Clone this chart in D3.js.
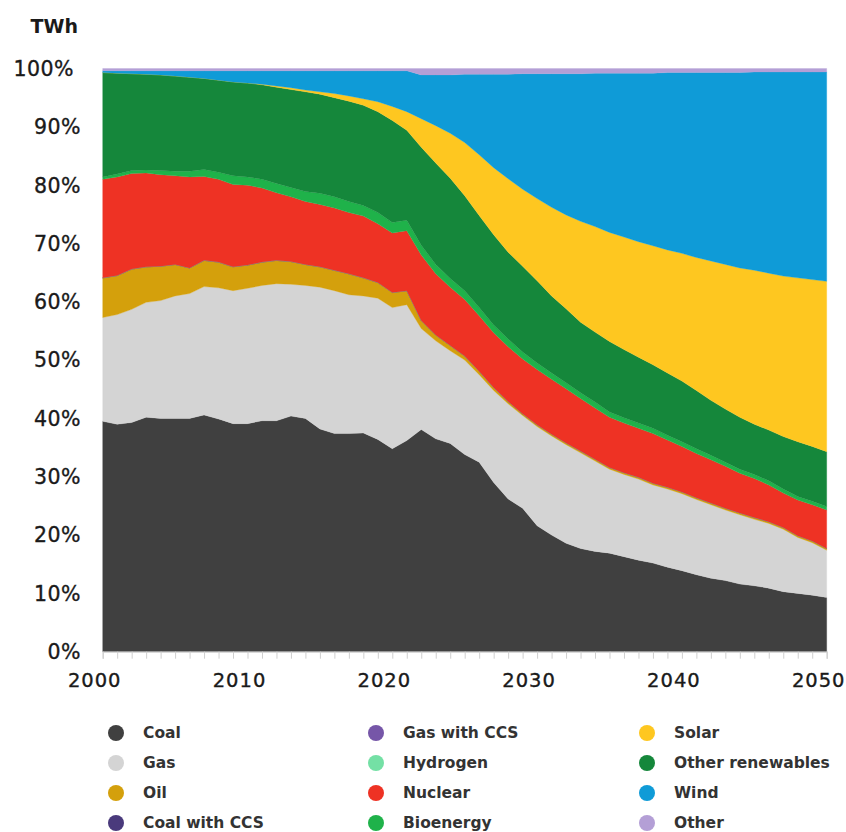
<!DOCTYPE html>
<html><head><meta charset="utf-8">
<script src="https://cdn.jsdelivr.net/npm/d3@7"></script>
<style>
html,body{margin:0;padding:0;background:#fff;}
svg{display:block;}
</style></head>
<body>
<svg id="chart" width="846" height="832"></svg>
<script>
const years = d3.range(2000, 2051);
const seriesNames = ["Coal","Gas","Oil","Coal with CCS","Gas with CCS","Hydrogen","Nuclear","Bioenergy","Other renewables","Solar","Wind","Other"];
const colors = ["#404040","#d4d4d4","#d4a00c","#4a3a7c","#7656a8","#74e0a5","#ee3224","#1fb24a","#15873b","#fec720","#0f9bd7","#b49fd6"];
// legend order (column by column)
const legendOrder = ["Coal","Gas","Oil","Coal with CCS","Gas with CCS","Hydrogen","Nuclear","Bioenergy","Solar","Other renewables","Wind","Other"];

// shares (%) per year, 2000..2050
const coal = [39.5,39.0,39.3,40.2,40.0,40.0,40.0,40.6,39.9,39.1,39.1,39.6,39.6,40.4,40.0,38.2,37.4,37.4,37.5,36.4,34.8,36.2,38.1,
  36.5,35.7,33.8,32.5,29.0,26.2,24.6,21.6,20.0,18.6,17.7,17.2,16.9,16.3,15.7,15.2,14.5,13.9,13.2,12.6,12.2,11.6,11.3,10.9,10.3,10.0,9.7,9.3];
const gas = [17.8,18.8,19.4,19.7,20.2,21.0,21.4,22.0,22.5,22.8,23.2,23.2,23.5,22.6,22.8,24.3,24.5,23.8,23.5,24.2,24.2,23.3,17.3,
  16.8,15.9,16.2,15.0,15.8,16.3,15.9,17.0,17.0,16.9,16.4,15.5,14.4,14.1,13.9,13.4,13.4,13.2,12.9,12.6,12.1,11.9,11.4,11.1,10.7,9.6,9.0,8.1];
const oil = [6.8,6.7,6.9,6.1,5.9,5.4,4.4,4.5,4.4,4.1,4.0,4.0,4.0,3.9,3.6,3.5,3.5,3.6,3.1,2.7,2.6,2.4,1.4,
  1.0,0.9,0.7,0.6,0.5,0.4,0.3,0.3,0.3,0.3,0.3,0.3,0.3,0.3,0.3,0.3,0.3,0.3,0.3,0.3,0.3,0.3,0.3,0.3,0.3,0.3,0.3,0.3];
const coalCCS = years.map(() => 0);
const gasCCS = years.map(() => 0);
const hydrogen = years.map(() => 0);
const nuclear = [16.9,16.9,16.4,16.1,15.7,15.2,15.6,14.4,14.2,14.1,13.7,12.7,11.6,11.1,10.8,10.7,10.7,10.5,10.6,10.1,10.2,10.3,11.2,
  10.5,10.0,9.7,9.5,9.4,9.4,9.4,9.5,9.4,9.3,9.0,8.8,8.6,8.5,8.4,8.5,8.1,7.8,7.6,7.4,7.2,6.8,6.7,6.3,5.9,6.1,6.2,6.6];
const bioenergy = [0.4,0.5,0.5,0.5,0.7,0.8,1.0,1.2,1.2,1.5,1.4,1.5,1.6,1.6,1.7,1.9,1.9,1.9,1.8,1.9,1.8,1.8,1.7,
  1.6,1.5,1.5,1.4,1.3,1.3,1.2,1.1,1.1,1.0,1.0,1.0,0.9,0.9,0.9,0.9,0.8,0.8,0.8,0.8,0.7,0.7,0.7,0.7,0.7,0.6,0.6,0.6];
const otherRenewables = [17.9,17.3,16.6,16.4,16.4,16.3,16.1,15.6,15.8,16.1,16.1,16.2,16.5,16.8,17.1,17.0,17.0,17.2,17.2,17.3,17.5,15.4,16.8,
  17.4,17.2,16.3,15.8,15.5,14.9,14.7,14.1,13.2,12.7,12.1,12.0,12.1,11.7,11.3,10.9,10.7,10.4,10.0,9.4,9.1,8.9,8.6,8.7,9.0,9.4,9.4,9.4];
const solar = [0,0,0,0,0,0,0,0,0,0,0,0.1,0.2,0.3,0.3,0.4,0.7,0.9,1.1,1.7,2.4,3.2,4.9,
  6.4,7.7,9.1,10.4,11.5,12.6,13.2,14.1,15.2,16.1,17.3,18.1,18.7,19.3,19.8,20.4,21.1,21.9,22.8,23.9,24.8,25.6,26.4,26.9,27.5,28.1,28.6,29.2];
const wind = [0.3,0.4,0.5,0.6,0.7,0.9,1.1,1.3,1.6,1.9,2.1,2.3,2.6,2.9,3.3,3.6,3.9,4.3,4.8,5.3,6.1,7.0,7.5,
  8.7,10.0,11.7,13.8,16.0,17.9,19.8,21.4,22.9,24.2,25.3,26.3,27.3,28.1,28.9,29.6,30.4,31.0,31.7,32.3,32.9,33.5,34.0,34.5,35.0,35.3,35.6,35.9];
const other = [0.4,0.4,0.4,0.4,0.4,0.4,0.4,0.4,0.4,0.4,0.4,0.4,0.4,0.4,0.4,0.4,0.4,0.4,0.4,0.4,0.4,0.4,1.1,
  1.1,1.1,1.0,1.0,1.0,1.0,0.9,0.9,0.9,0.9,0.9,0.8,0.8,0.8,0.8,0.8,0.7,0.7,0.7,0.7,0.7,0.7,0.6,0.6,0.6,0.6,0.6,0.6];

const yTicks = [0,0.1,0.2,0.3,0.4,0.5,0.6,0.7,0.8,0.9,1.0];
const xTicks = [2000,2010,2020,2030,2040,2050];
const unitLabel = "TWh";

const seriesValues = [coal,gas,oil,coalCCS,gasCCS,hydrogen,nuclear,bioenergy,otherRenewables,solar,wind,other];
const table = years.map((yr,i) => {
  const row = {year: yr};
  seriesNames.forEach((n,k) => row[n] = seriesValues[k][i]);
  return row;
});
const colorOf = d3.scaleOrdinal().domain(seriesNames).range(colors);

const svg = d3.select("#chart");
const mLeft = 102.7, mRight = 826.7, mTop = 68.5, mBottom = 651.7;
const x = d3.scaleLinear().domain([2000,2050]).range([mLeft,mRight]);
const y = d3.scaleLinear().domain([0,1]).range([mBottom,mTop]);

const stack = d3.stack().keys(seriesNames).offset(d3.stackOffsetExpand).order(d3.stackOrderNone);
const layers = stack(table);

const area = d3.area()
  .x(d => x(d.data.year))
  .y0(d => y(d[0]))
  .y1(d => y(d[1]))
  .curve(d3.curveLinear);

svg.append("g").selectAll("path").data(layers).join("path")
  .attr("d", area)
  .attr("fill", d => colorOf(d.key))
  .attr("stroke", d => colorOf(d.key))
  .attr("stroke-width", 0.3);

// x axis
const xAxis = svg.append("g").attr("transform", `translate(0,${mBottom})`)
  .call(d3.axisBottom(x).tickValues(years).tickSize(7).tickFormat(""));
xAxis.select(".domain").attr("stroke","#cfcfcf").attr("stroke-width",1.2);
xAxis.selectAll(".tick line").attr("stroke","#cfcfcf");

const labelFont = "DejaVu Sans, sans-serif";
svg.append("g").selectAll("text").data(xTicks).join("text")
  .attr("x", d => x(d) - 8)
  .attr("y", 687)
  .attr("text-anchor","middle")
  .attr("font-family",labelFont)
  .attr("font-size",19.5)
  .attr("letter-spacing",1)
  .attr("fill","#1a1a1a")
  .attr("stroke","#1a1a1a")
  .attr("stroke-width",0.35)
  .text(d => d);

// y labels
const pct = d3.format(".0%");
svg.append("g").selectAll("text").data(yTicks).join("text")
  .attr("x", d => d === 1 ? 74 : 81)
  .attr("y", d => y(d))
  .attr("dy","0.36em")
  .attr("text-anchor","end")
  .attr("font-family",labelFont)
  .attr("font-size",20.5)
  .attr("letter-spacing",0.5)
  .attr("fill","#1a1a1a")
  .attr("stroke","#1a1a1a")
  .attr("stroke-width",0.35)
  .text(d => pct(d));

svg.append("text")
  .attr("x", 78).attr("y", 33)
  .attr("text-anchor","end")
  .attr("font-family",labelFont)
  .attr("font-weight","bold")
  .attr("font-size",19)
  .attr("fill","#1a1a1a")
  .text(unitLabel);

// legend
const colX = [116, 376, 647];
const rowY = [733, 763, 793, 823];
const legend = svg.append("g").selectAll("g").data(legendOrder).join("g")
  .attr("transform", (d,i) => `translate(${colX[Math.floor(i/4)]},${rowY[i%4]})`);
legend.append("circle").attr("r", 8).attr("fill", d => colorOf(d));
legend.append("text")
  .attr("x", 27)
  .attr("dy","0.35em")
  .attr("font-family",labelFont)
  .attr("font-weight","bold")
  .attr("font-size",15.5)
  .attr("fill","#333")
  .text(d => d);
</script>
</body></html>
